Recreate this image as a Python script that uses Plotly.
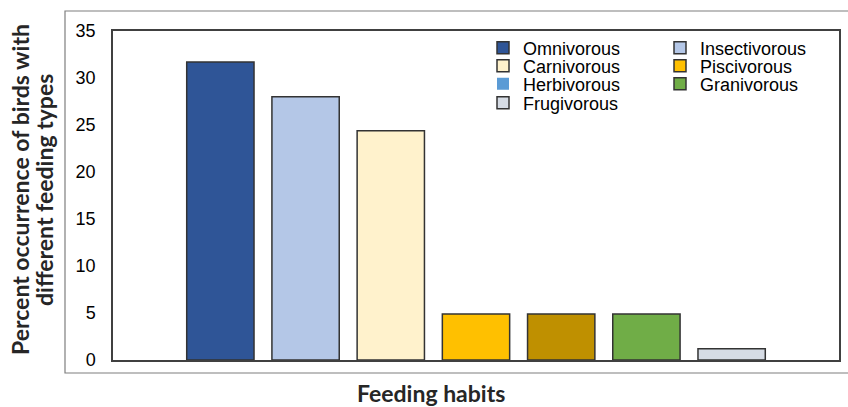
import plotly.graph_objects as go

categories = ["Omnivorous", "Insectivorous", "Carnivorous", "Piscivorous",
              "Herbivorous", "Granivorous", "Frugivorous"]
values = [31.7, 28.0, 24.4, 4.9, 4.9, 4.9, 1.2]
bar_colors = ["#2F5597", "#B4C7E7", "#FFF2CC", "#FFC000", "#BF9000", "#70AD47", "#D6DCE5"]
legend_colors = ["#2F5597", "#B4C7E7", "#FFF2CC", "#FFC000", "#5B9BD5", "#70AD47", "#D6DCE5"]
y_ticks = [0, 5, 10, 15, 20, 25, 30, 35]
y_title_lines = ["Percent occurrence of birds with", "different feeding types"]
x_title = "Feeding habits"

W, H = 848, 407
L, R, T, B = 113, 9, 31, 47
pw, ph = W - L - R, H - T - B

def px_x(x):
    return (x - L) / pw

def px_y(y):
    return (H - B - y) / ph

# legend slot positions (text start x, row centre y)
legend_slots = [(523, 48), (700, 48), (523, 66), (700, 66), (523, 84), (700, 84), (523, 103)]

fig = go.Figure()
legend_names = ["legend"] + [f"legend{i}" for i in range(2, 8)]

for i, (cat, val) in enumerate(zip(categories, values)):
    same = legend_colors[i] == bar_colors[i]
    fig.add_trace(go.Bar(
        x=[cat], y=[val], name=cat, width=0.79,
        marker=dict(color=bar_colors[i], line=dict(color="#333333", width=1.5)),
        showlegend=same, legend=legend_names[i],
    ))
    if not same:
        fig.add_trace(go.Bar(
            x=[cat], y=[None], name=cat, width=0.79,
            marker=dict(color=legend_colors[i], line=dict(width=0)),
            showlegend=True, legend=legend_names[i],
        ))

layout_legends = {}
for i, (tx, ty) in enumerate(legend_slots):
    layout_legends[legend_names[i]] = dict(
        x=px_x(tx - 40), y=px_y(ty), xanchor="left", yanchor="middle",
        bgcolor="rgba(0,0,0,0)", borderwidth=0,
        font=dict(family="Liberation Sans, Arial", size=18, color="#000000"),
        itemclick=False, itemdoubleclick=False,
    )

fig.update_layout(
    width=W, height=H,
    margin=dict(l=L, r=R, t=T, b=B, autoexpand=False),
    paper_bgcolor="white", plot_bgcolor="white",
    showlegend=True,
    barmode="overlay",
    **layout_legends,
)

fig.update_xaxes(
    categoryorder="array", categoryarray=categories,
    range=[-1.26, 7.26], showticklabels=False, ticks="",
    showline=True, linecolor="#404040", linewidth=1.5, mirror=True,
    showgrid=False, zeroline=False, automargin=False,
)
fig.update_yaxes(
    range=[0, 35], tickvals=y_ticks, ticktext=[str(v) for v in y_ticks],
    tickfont=dict(family="Liberation Sans, Arial", size=18, color="#000000"),
    ticklabelstandoff=12,
    showline=True, linecolor="#404040", linewidth=1.5, mirror=True,
    showgrid=False, zeroline=False, ticks="", automargin=False,
)

# outer chart frame
fig.add_shape(type="rect", xref="paper", yref="paper",
              x0=px_x(65), x1=px_x(852), y0=px_y(373), y1=px_y(11),
              line=dict(color="#7F7F7F", width=1.2), fillcolor="rgba(0,0,0,0)", layer="below")

for line_text, cx in zip(y_title_lines, [20, 44]):
    fig.add_annotation(
        text=line_text,
        xref="paper", yref="paper", x=px_x(cx), y=px_y(190),
        xanchor="center", yanchor="middle", textangle=-90, showarrow=False,
        font=dict(family="Lato", size=23, color="#262626", weight="bold"),
    )
fig.add_annotation(
    text=x_title,
    xref="paper", yref="paper", x=px_x(431), y=px_y(393),
    xanchor="center", yanchor="middle", showarrow=False,
    font=dict(family="Lato", size=23, color="#262626", weight="bold"),
)

fig.write_html("out.html", config={"displayModeBar": False},
               post_script="document.body.style.margin='0px';")
